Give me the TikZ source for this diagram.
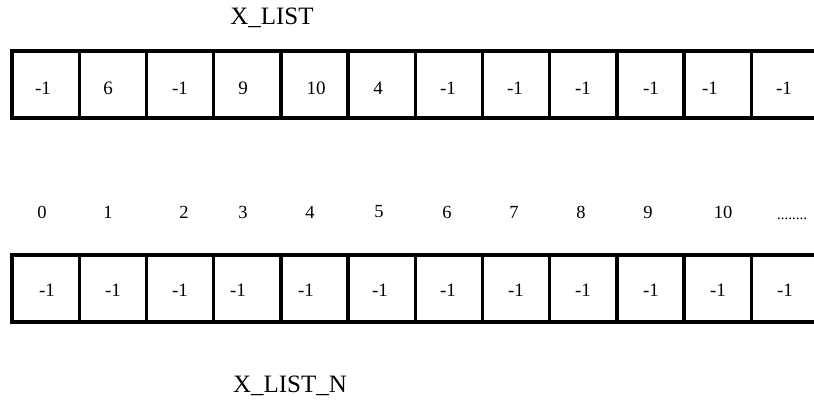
\documentclass[tikz,border=0pt]{standalone}
\usepackage{fontspec}
\setmainfont{Liberation Serif}
\begin{document}
\begin{tikzpicture}[x=1pt,y=-1pt,
  frame/.style={line width=3.4pt,line cap=rect},
  cellval/.style={inner sep=0pt,font=\fontsize{19}{19}\selectfont},
  idx/.style={inner sep=0pt,font=\fontsize{18.5}{18.5}\selectfont},
  title/.style={inner sep=0pt,font=\fontsize{25}{25}\selectfont}]
\useasboundingbox (0,0) rectangle (814,408);
% titles
\node[title] (t1) at (272,18) {X\_LIST};
\node[title] (t2) at (290,386) {X\_LIST\_N};
% top array frame
\coordinate (ta) at (12,51);
\coordinate (tb) at (816,51);
\coordinate (tc) at (12,118);
\coordinate (td) at (816,118);
\draw[frame] (tb) -- (ta) -- (tc) -- (td);
\foreach \k in {1,...,11}{
  \draw[frame] ({12+67.2*\k},51) -- ({12+67.2*\k},118);
}
% bottom array frame
\coordinate (ba) at (12,255);
\coordinate (bb) at (816,255);
\coordinate (bc) at (12,322);
\coordinate (bd) at (816,322);
\draw[frame] (bb) -- (ba) -- (bc) -- (bd);
\foreach \k in {1,...,11}{
  \draw[frame] ({12+67.2*\k},255) -- ({12+67.2*\k},322);
}
% top values
\foreach \x/\v [count=\i] in {43/-1,108/6,180/-1,243/9,316/10,378/4,448/-1,515/-1,583/-1,651/-1,710/-1,784/-1}{
  \node[cellval] (top\i) at (\x,88) {\v};
}
% bottom values
\foreach \x [count=\i] in {47,113,180,238,306,380,448,516,583,651,718,785}{
  \node[cellval] (bot\i) at (\x,290) {-1};
}
% indices
\foreach \x/\v [count=\i] in {42/0,108/1,184/2,243/3,310/4,379/5,447/6,514/7,581/8,648/9,723/10}{
  \node[idx] (ix\i) at (\x,212) {\v};
}
\node[inner sep=0pt,anchor=base,font=\fontsize{15}{15}\selectfont] (dots) at (792,219) {........};
\end{tikzpicture}
\end{document}
